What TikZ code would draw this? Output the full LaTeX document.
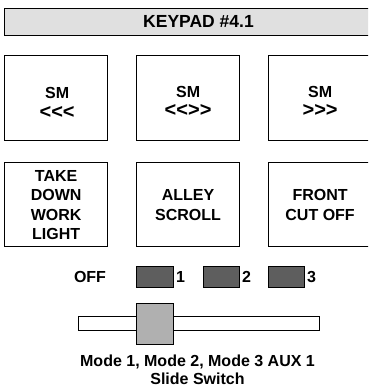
\documentclass[tikz,border=0pt]{standalone}
\usepackage{fontspec}
\setmainfont{Liberation Sans}
\newcommand{\lsym}{<\kern0pt}
\newcommand{\gsym}{>\kern0pt}
\newcommand{\bigarr}[1]{{\fontsize{20}{19.5}\selectfont #1}}
\begin{document}
\begin{tikzpicture}[x=1pt,y=-1pt,
  titlebar/.style={draw, fill=black!12, line width=1pt, minimum width=389pt, minimum height=27pt, inner sep=0pt,
    font=\bfseries\fontsize{17.5}{21}\selectfont},
  keybox/.style={draw, line width=1.2pt, minimum width=103pt, minimum height=85pt, inner sep=0pt, anchor=north west},
  keytxt/.style={align=center, inner sep=0pt, font=\bfseries\fontsize{16}{19.5}\selectfont},
  txt/.style={inner sep=0pt, font=\bfseries\fontsize{16}{18}\selectfont},
  numlbl/.style={anchor=west, inner sep=0pt, font=\bfseries\fontsize{16}{18}\selectfont},
  ind/.style={draw, fill=black!63, line width=1pt, minimum width=37pt, minimum height=21pt, inner sep=0pt, anchor=north west},
  track/.style={draw, fill=white, line width=1pt, minimum width=241pt, minimum height=14pt, inner sep=0pt, anchor=north west},
  knob/.style={draw, fill=black!31, line width=1pt, minimum width=37pt, minimum height=41pt, inner sep=0pt, anchor=north west}
]
\useasboundingbox (0,0) rectangle (368,391);
\clip (0,0) rectangle (368,391);
\fill[white] (0,0) rectangle (368,391);

\node[titlebar] (title) at (198.5,21.5) {KEYPAD \#4.1};

\node[keybox] (k1) at (4,55) {};
\node[keybox] (k2) at (136,55) {};
\node[keybox] (k3) at (268,55) {};
\node[keybox, minimum height=84pt] (k4) at (4,162) {};
\node[keybox, minimum height=84pt] (k5) at (136,162) {};
\node[keybox, minimum height=84pt] (k6) at (268,162) {};

\node[keytxt] (k1t) at ([xshift=1pt,yshift=-5pt]k1.center) {SM\\\bigarr{\lsym\lsym\lsym}};
\node[keytxt] (k2t) at ([yshift=-3.5pt]k2.center) {SM\\\bigarr{\lsym\lsym\gsym\gsym}};
\node[keytxt] (k3t) at ([yshift=-3.5pt]k3.center) {SM\\\bigarr{\gsym\gsym\gsym}};
\node[keytxt] (k4t) at ([yshift=-0.5pt]k4.center) {TAKE\\DOWN\\WORK\\LIGHT};
\node[keytxt] (k5t) at ([yshift=-0.5pt]k5.center) {ALLEY\\SCROLL};
\node[keytxt] (k6t) at ([yshift=-0.5pt]k6.center) {FRONT\\CUT OFF};

\node[txt] (off) at (90,277) {OFF};
\node[ind] (i1) at (136,266) {};
\node[ind, minimum width=36pt] (i2) at (203,266) {};
\node[ind, minimum width=36pt] (i3) at (268,266) {};
\node[numlbl] (n1) at ([xshift=2pt]i1.east) {1};
\node[numlbl] (n2) at ([xshift=2pt]i2.east) {2};
\node[numlbl] (n3) at ([xshift=2pt]i3.east) {3};

\node[track] (trk) at (78,316) {};
\node[knob] (knob) at (136,303) {};

\node[txt, align=center] (cap) at (197.5,369.5) {Mode 1, Mode 2, Mode 3 AUX 1\\Slide Switch};
\end{tikzpicture}
\end{document}
